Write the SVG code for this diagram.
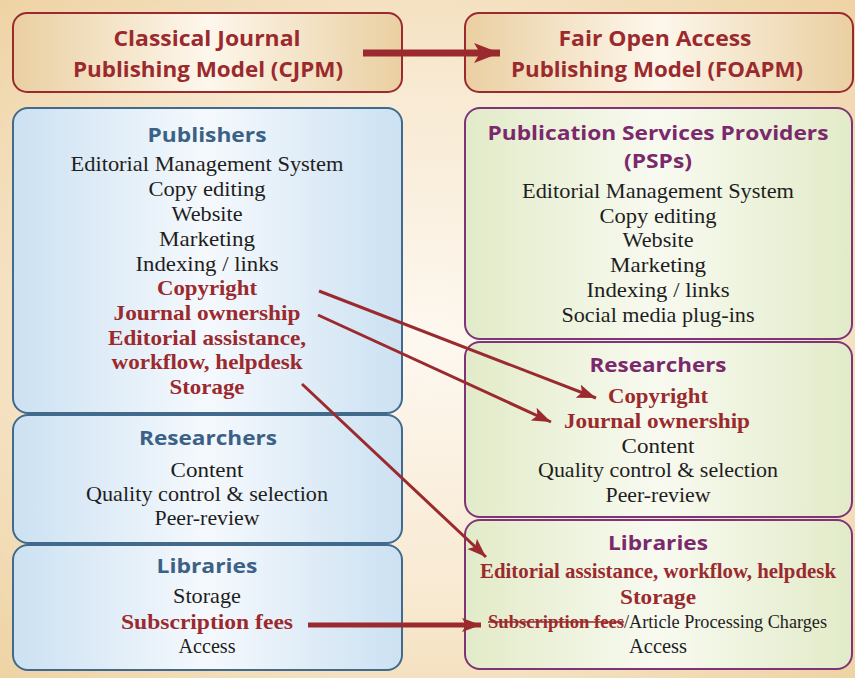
<svg xmlns="http://www.w3.org/2000/svg" width="855" height="678" viewBox="0 0 855 678">
<defs>
<radialGradient id="bg" cx="0.5" cy="0.5" r="0.7">
<stop offset="0" stop-color="#fdf8f0"/>
<stop offset="0.55" stop-color="#f8e9d1"/>
<stop offset="1" stop-color="#eed3a4"/>
</radialGradient>
<linearGradient id="tan" x1="0" y1="0" x2="1" y2="0">
<stop offset="0" stop-color="#eacfa1"/>
<stop offset="0.5" stop-color="#fdf7ec"/>
<stop offset="1" stop-color="#eacfa1"/>
</linearGradient>
<linearGradient id="blue" x1="0" y1="0" x2="1" y2="0">
<stop offset="0" stop-color="#cce1f2"/>
<stop offset="0.5" stop-color="#f5f9fd"/>
<stop offset="1" stop-color="#cce1f2"/>
</linearGradient>
<linearGradient id="green" x1="0" y1="0" x2="1" y2="0">
<stop offset="0" stop-color="#e2ebc8"/>
<stop offset="0.5" stop-color="#f8faf0"/>
<stop offset="1" stop-color="#e2ebc8"/>
</linearGradient>
<marker id="headBig" markerUnits="userSpaceOnUse" markerWidth="30" markerHeight="24" refX="26" refY="10" orient="auto">
<path d="M0,0 L26,10 L0,20 L6,10 Z" fill="#9b2a2e"/>
</marker>
<marker id="headSmall" markerUnits="userSpaceOnUse" markerWidth="22" markerHeight="16" refX="19" refY="7" orient="auto">
<path d="M0,0 L19,7 L0,14 L4,7 Z" fill="#9b2a2e"/>
</marker>
<style>
.title{font-family:"Open Sans","Liberation Sans",sans-serif;font-weight:700;font-size:22px;fill:#9b2a2e;text-anchor:middle}
.hb{font-family:"Open Sans","Liberation Sans",sans-serif;font-weight:700;font-size:20px;fill:#3b6286;text-anchor:middle}
.hp{font-family:"Open Sans","Liberation Sans",sans-serif;font-weight:700;font-size:20px;fill:#7a2a6c;text-anchor:middle}
.t{font-family:"Liberation Serif",serif;font-size:21px;fill:#1e1e1e;text-anchor:middle}
.r{font-family:"Liberation Serif",serif;font-weight:700;font-size:21px;fill:#9b2a2e;text-anchor:middle}
.tanbox{fill:url(#tan);stroke:#9b2a2e;stroke-width:2}
.bluebox{fill:url(#blue);stroke:#416a8c;stroke-width:2}
.greenbox{fill:url(#green);stroke:#7e3476;stroke-width:2}
.arr{stroke:#9b2a2e;fill:none}
</style>
</defs>
<rect x="0" y="0" width="855" height="678" fill="url(#bg)"/>

<g id="cjpm">
<rect class="tanbox" x="13" y="13" width="389" height="79" rx="14"/>
<text class="title" x="207" y="46" textLength="187" lengthAdjust="spacingAndGlyphs">Classical Journal</text>
<text class="title" x="208" y="77" textLength="270" lengthAdjust="spacingAndGlyphs">Publishing Model (CJPM)</text>
</g>
<g id="foapm">
<rect class="tanbox" x="465" y="13" width="388" height="79" rx="14"/>
<text class="title" x="655" y="46" textLength="193" lengthAdjust="spacingAndGlyphs">Fair Open Access</text>
<text class="title" x="657" y="77" textLength="292" lengthAdjust="spacingAndGlyphs">Publishing Model (FOAPM)</text>
</g>

<g id="publishers">
<rect class="bluebox" x="13" y="108" width="389" height="305" rx="15"/>
<text class="hb" x="207" y="142" textLength="119" lengthAdjust="spacingAndGlyphs">Publishers</text>
<text class="t" x="207" y="171" textLength="273" lengthAdjust="spacingAndGlyphs">Editorial Management System</text>
<text class="t" x="207" y="196" textLength="117" lengthAdjust="spacingAndGlyphs">Copy editing</text>
<text class="t" x="207" y="221" textLength="71" lengthAdjust="spacingAndGlyphs">Website</text>
<text class="t" x="207" y="246" textLength="96" lengthAdjust="spacingAndGlyphs">Marketing</text>
<text class="t" x="207" y="271" textLength="143" lengthAdjust="spacingAndGlyphs">Indexing / links</text>
<text class="r" x="207" y="295" textLength="100" lengthAdjust="spacingAndGlyphs">Copyright</text>
<text class="r" x="207" y="320" textLength="187" lengthAdjust="spacingAndGlyphs">Journal ownership</text>
<text class="r" x="207" y="345" textLength="198" lengthAdjust="spacingAndGlyphs">Editorial assistance,</text>
<text class="r" x="207" y="369" textLength="191" lengthAdjust="spacingAndGlyphs">workflow, helpdesk</text>
<text class="r" x="207" y="394" textLength="75" lengthAdjust="spacingAndGlyphs">Storage</text>
</g>

<g id="researchers-left">
<rect class="bluebox" x="13" y="415" width="389" height="128" rx="15"/>
<text class="hb" x="208" y="445" textLength="138" lengthAdjust="spacingAndGlyphs">Researchers</text>
<text class="t" x="207" y="477" textLength="73" lengthAdjust="spacingAndGlyphs">Content</text>
<text class="t" x="207" y="501" textLength="242" lengthAdjust="spacingAndGlyphs">Quality control &amp; selection</text>
<text class="t" x="207" y="525" textLength="105" lengthAdjust="spacingAndGlyphs">Peer-review</text>
</g>

<g id="libraries-left">
<rect class="bluebox" x="13" y="545" width="389" height="125" rx="15"/>
<text class="hb" x="207" y="573" textLength="101" lengthAdjust="spacingAndGlyphs">Libraries</text>
<text class="t" x="207" y="603" textLength="68" lengthAdjust="spacingAndGlyphs">Storage</text>
<text class="r" x="207" y="629" textLength="172" lengthAdjust="spacingAndGlyphs">Subscription fees</text>
<text class="t" x="207" y="653" textLength="57" lengthAdjust="spacingAndGlyphs">Access</text>
</g>

<g id="psps">
<rect class="greenbox" x="465" y="108" width="387" height="231" rx="15"/>
<text class="hp" x="658" y="140" textLength="341" lengthAdjust="spacingAndGlyphs">Publication Services Providers</text>
<text class="hp" x="658" y="168" textLength="68" lengthAdjust="spacingAndGlyphs">(PSPs)</text>
<text class="t" x="658" y="198" textLength="272" lengthAdjust="spacingAndGlyphs">Editorial Management System</text>
<text class="t" x="658" y="223" textLength="117" lengthAdjust="spacingAndGlyphs">Copy editing</text>
<text class="t" x="658" y="247" textLength="71" lengthAdjust="spacingAndGlyphs">Website</text>
<text class="t" x="658" y="272" textLength="96" lengthAdjust="spacingAndGlyphs">Marketing</text>
<text class="t" x="658" y="297" textLength="143" lengthAdjust="spacingAndGlyphs">Indexing / links</text>
<text class="t" x="658" y="322" textLength="193" lengthAdjust="spacingAndGlyphs">Social media plug-ins</text>
</g>

<g id="researchers-right">
<rect class="greenbox" x="465" y="342" width="387" height="175" rx="15"/>
<text class="hp" x="658" y="372" textLength="137" lengthAdjust="spacingAndGlyphs">Researchers</text>
<text class="r" x="658" y="403" textLength="100" lengthAdjust="spacingAndGlyphs">Copyright</text>
<text class="r" x="657" y="428" textLength="186" lengthAdjust="spacingAndGlyphs">Journal ownership</text>
<text class="t" x="658" y="453" textLength="73" lengthAdjust="spacingAndGlyphs">Content</text>
<text class="t" x="658" y="477" textLength="240" lengthAdjust="spacingAndGlyphs">Quality control &amp; selection</text>
<text class="t" x="658" y="502" textLength="105" lengthAdjust="spacingAndGlyphs">Peer-review</text>
</g>

<g id="libraries-right">
<rect class="greenbox" x="465" y="520" width="387" height="149" rx="15"/>
<text class="hp" x="658" y="550" textLength="100" lengthAdjust="spacingAndGlyphs">Libraries</text>
<text class="r" x="658" y="578" textLength="356" lengthAdjust="spacingAndGlyphs">Editorial assistance, workflow, helpdesk</text>
<text class="r" x="658" y="604" textLength="76" lengthAdjust="spacingAndGlyphs">Storage</text>
<text class="r" x="488" y="628" style="text-anchor:start;font-size:18px" textLength="136" lengthAdjust="spacingAndGlyphs">Subscription fees</text>
<line x1="488" y1="622" x2="624" y2="622" stroke="#9b2a2e" stroke-width="1.5"/>
<text class="t" x="624" y="628" style="text-anchor:start;font-size:19.5px" textLength="203" lengthAdjust="spacingAndGlyphs">/Article Processing Charges</text>
<text class="t" x="658" y="653" textLength="58" lengthAdjust="spacingAndGlyphs">Access</text>
</g>

<g id="connectors">
<line class="arr" x1="363" y1="53" x2="500" y2="53" stroke-width="7" marker-end="url(#headBig)"/>
<line class="arr" x1="319" y1="291" x2="596" y2="398" stroke-width="3" marker-end="url(#headSmall)"/>
<line class="arr" x1="318" y1="315" x2="551" y2="422" stroke-width="3" marker-end="url(#headSmall)"/>
<line class="arr" x1="302" y1="384" x2="486" y2="557" stroke-width="3" marker-end="url(#headSmall)"/>
<line class="arr" x1="308" y1="625" x2="481" y2="625" stroke-width="5" marker-end="url(#headSmall)"/>
</g>
</svg>
